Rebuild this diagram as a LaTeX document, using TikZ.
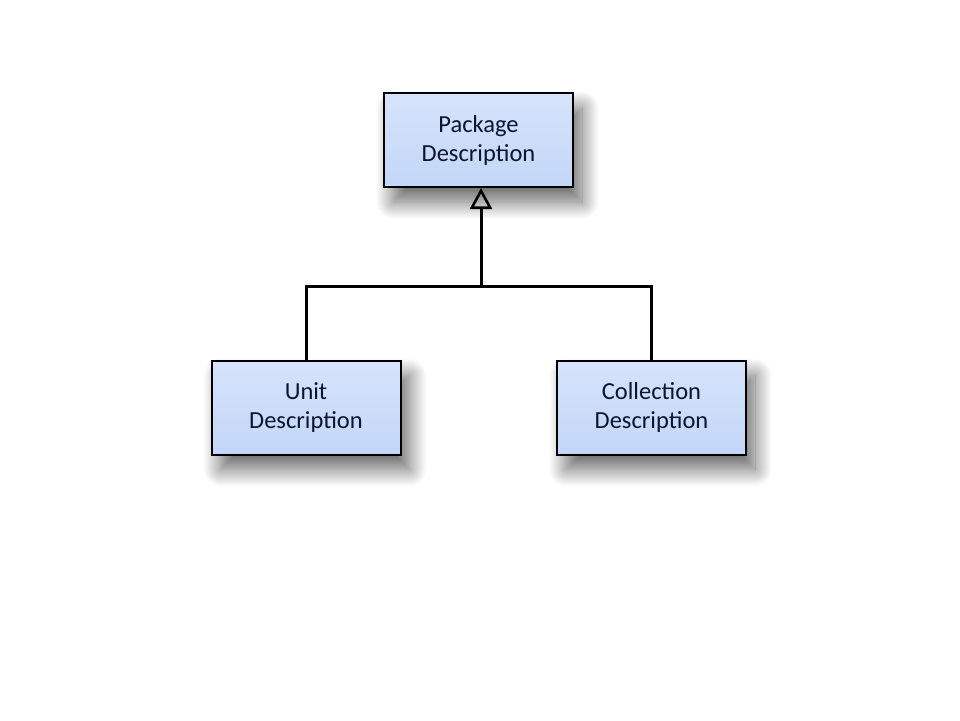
\documentclass[tikz,border=0pt]{standalone}
\usepackage{fontspec}
\setmainfont{Carlito}
\usetikzlibrary{arrows.meta,shadows.blur}
\definecolor{boxtop}{HTML}{E0EAFC}
\definecolor{boxmid}{HTML}{BFD4F7}
\definecolor{boxbot}{HTML}{E8F0FD}
\definecolor{desctext}{HTML}{0B1530}
\pgfdeclareverticalshading{boxshade}{100bp}{color(0bp)=(boxbot); color(6bp)=(boxmid); color(16bp)=(boxmid); color(100bp)=(boxtop)}

\tikzset{
  desc/.style={draw=black, line width=2pt, minimum width=189pt, minimum height=94pt,
    align=center, text=desctext, font=\fontsize{24.5}{29}\selectfont, shading=boxshade,
    blur shadow={shadow xshift=9pt, shadow yshift=-15pt, shadow blur radius=17pt,
      shadow blur steps=24, shadow opacity=60}},
  link/.style={line width=3pt}
}

\begin{document}
\begin{tikzpicture}[x=1pt, y=-1pt]

\useasboundingbox (0,0) rectangle (960,720);

% the three boxes
\node[desc] (pkg_desc) at (478.5,140) {Package\\Description};
\node[desc] (unit_desc) at (306,407.5) {Unit\\Description};
\node[desc] (coll_desc) at (651.5,407.5) {Collection\\Description};

% bar joining the two lower boxes
\coordinate (junction) at (481,286);
\draw[link] (unit_desc.north) |- (junction) -| (coll_desc.north);

% generalisation arrow
\draw[link, -{Triangle[open, length=21pt, width=22pt, line width=2.6pt]}] (junction) -- (junction |- pkg_desc.south);

\end{tikzpicture}
\end{document}
